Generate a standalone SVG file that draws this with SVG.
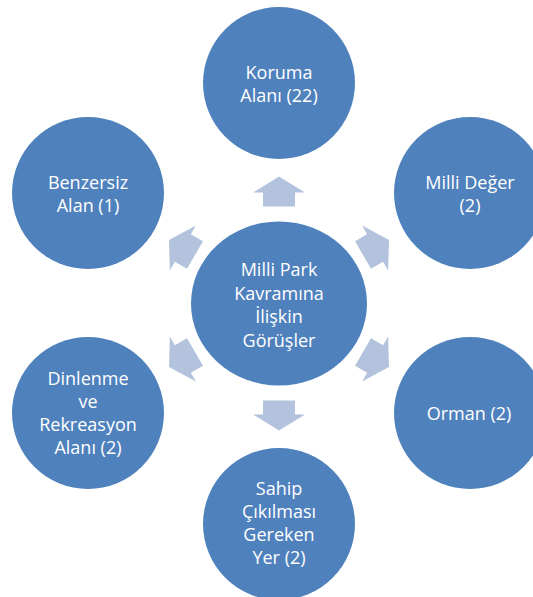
<svg xmlns="http://www.w3.org/2000/svg" width="533" height="597" viewBox="0 0 533 597">
<defs>
<style>
.node{fill:#4f81bd;}
.arrow{fill:#b3c3de;}
.lbl{fill:#ffffff;font-family:"Open Sans","Liberation Sans",sans-serif;font-size:18px;text-anchor:middle;}
</style>
<polygon id="arr" points="-16,-97 -16,-111 -26,-111 0,-127 26,-111 16,-111 16,-97"/>
</defs>
<rect width="533" height="597" fill="#ffffff"/>
<g id="connectors" class="arrow">
<use href="#arr" transform="translate(279,303.5) rotate(0)"/>
<use href="#arr" transform="translate(279,303.5) rotate(60)"/>
<use href="#arr" transform="translate(279,303.5) rotate(120)"/>
<use href="#arr" transform="translate(279,303.5) rotate(180)"/>
<use href="#arr" transform="translate(279,303.5) rotate(240)"/>
<use href="#arr" transform="translate(279,303.5) rotate(300)"/>
</g>
<g id="center">
<ellipse class="node" cx="279" cy="303.5" rx="88" ry="82"/>
<text class="lbl"><tspan x="279" y="276">Milli Park</tspan><tspan x="279" y="299.5">Kavramına</tspan><tspan x="279" y="323">İlişkin</tspan><tspan x="279" y="346.5">Görüşler</tspan></text>
</g>
<g id="koruma">
<circle class="node" cx="279" cy="83" r="76"/>
<text class="lbl"><tspan x="279" y="79">Koruma</tspan><tspan x="279" y="102">Alanı (22)</tspan></text>
</g>
<g id="milli-deger">
<circle class="node" cx="470" cy="193" r="76"/>
<text class="lbl"><tspan x="470" y="189">Milli Değer</tspan><tspan x="470" y="212">(2)</tspan></text>
</g>
<g id="orman">
<circle class="node" cx="470" cy="413" r="76"/>
<text class="lbl"><tspan x="469" y="420">Orman (2)</tspan></text>
</g>
<g id="sahip">
<circle class="node" cx="279" cy="524" r="76"/>
<text class="lbl"><tspan x="279" y="495">Sahip</tspan><tspan x="279" y="518">Çıkılması</tspan><tspan x="279" y="541">Gereken</tspan><tspan x="279" y="564">Yer (2)</tspan></text>
</g>
<g id="dinlenme">
<circle class="node" cx="88" cy="413" r="76"/>
<text class="lbl"><tspan x="88" y="385">Dinlenme</tspan><tspan x="88" y="408">ve</tspan><tspan x="88" y="431">Rekreasyon</tspan><tspan x="88" y="454">Alanı (2)</tspan></text>
</g>
<g id="benzersiz">
<circle class="node" cx="88" cy="193" r="76"/>
<text class="lbl"><tspan x="88" y="189">Benzersiz</tspan><tspan x="88" y="212">Alan (1)</tspan></text>
</g>
</svg>
